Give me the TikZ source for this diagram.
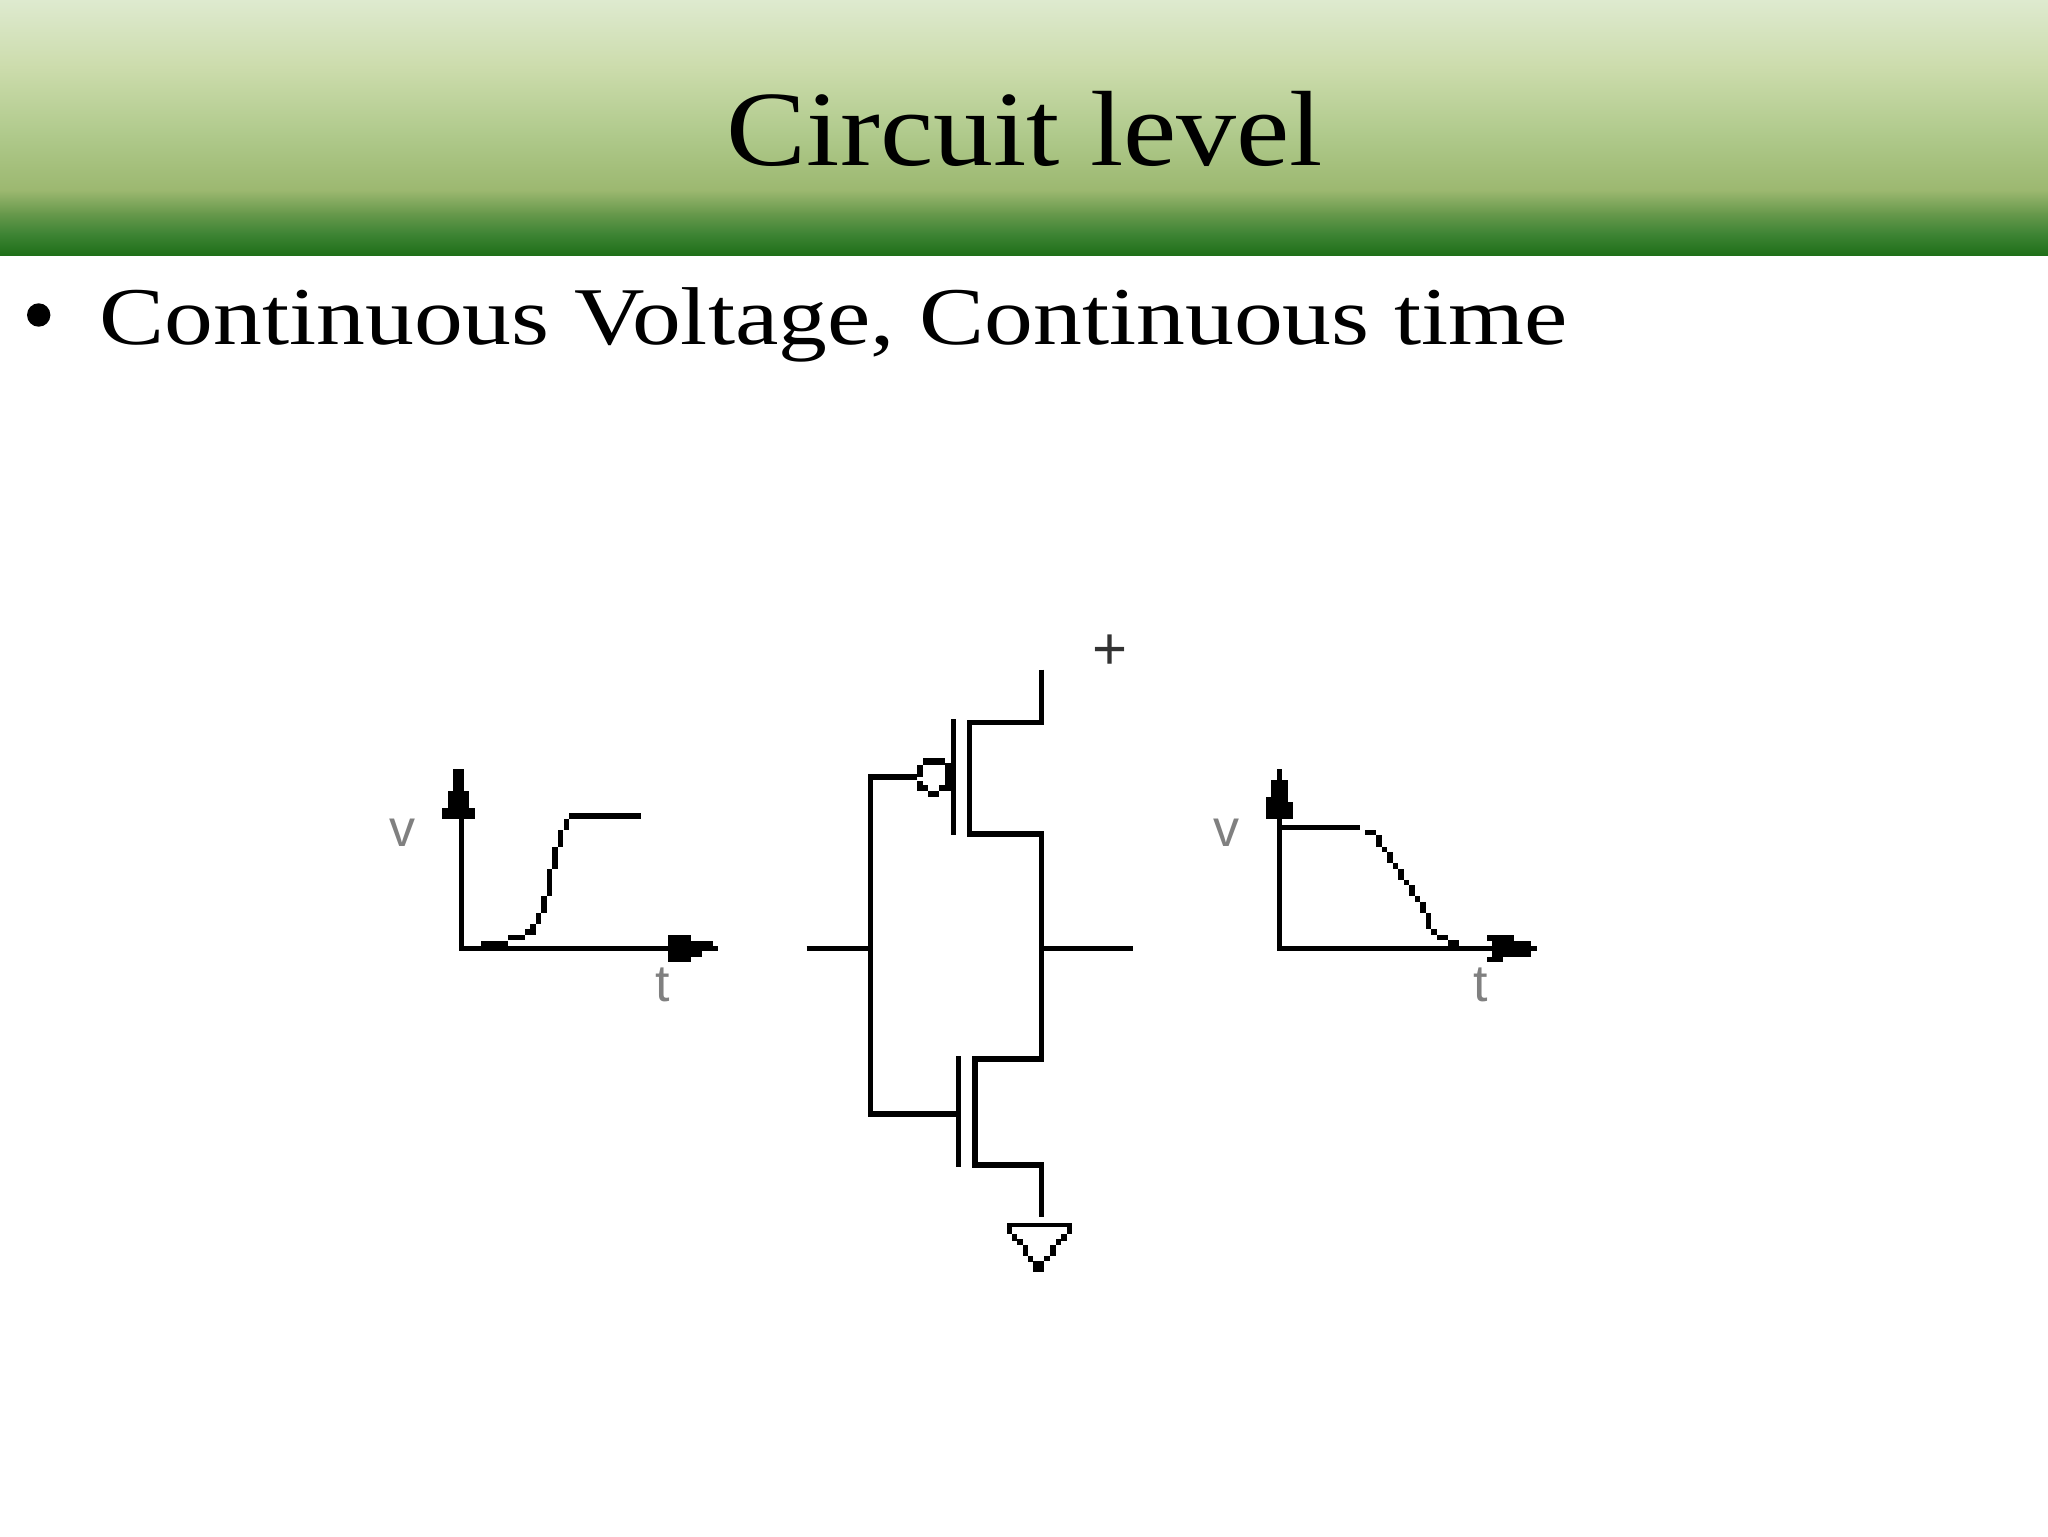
\documentclass[tikz,border=0pt]{standalone}
\usepackage{fontspec}
\setmainfont{Liberation Serif}
\setsansfont{Liberation Sans}
\definecolor{gA}{HTML}{DEEACF}
\definecolor{gB}{HTML}{CCDCAC}
\definecolor{gC}{HTML}{B0CA8C}
\definecolor{gD}{HTML}{9CB870}
\definecolor{gE}{HTML}{68994C}
\definecolor{gF}{HTML}{3F8535}
\definecolor{gG}{HTML}{1E6E18}
\tikzset{
  zoomed/.style={x=0.16667pt,y=-0.16667pt},
  tallzoomed/.style={x=0.16667pt,y=-0.21044pt},
  wire/.style={line width=2.7pt,black,line join=miter},
  pix/.style={fill=black},
  titletext/.style={anchor=base,inner sep=0pt,text=black},
  axislabel/.style={inner sep=0pt,text=black!50,font=\sffamily\fontsize{26}{26}\selectfont},
  band/.style={draw=none}
}
\newcommand{\pixrects}[1]{\foreach \a/\b/\c/\d in {#1} {\fill[pix] (\a,\b) rectangle (\c,\d);}}
\begin{document}
\begin{tikzpicture}[x=0.5pt,y=-0.5pt]
\useasboundingbox (0,0) rectangle (2048,1536);
\fill[white] (0,0) rectangle (2048,1536);
% header
\shade[band,top color=gA,bottom color=gB] (0,0) rectangle (2048,67.5);
\shade[band,top color=gB,bottom color=gC] (0,67) rectangle (2048,133.5);
\shade[band,top color=gC,bottom color=gD] (0,133) rectangle (2048,190.5);
\shade[band,top color=gD,bottom color=gE] (0,190) rectangle (2048,213.5);
\shade[band,top color=gE,bottom color=gF] (0,213) rectangle (2048,233.5);
\shade[band,top color=gF,bottom color=gG] (0,233) rectangle (2048,255.5);
% texts
\node[titletext] (title) at (1025,165) {\resizebox{298pt}{\height}{\fontsize{53.5}{58}\selectfont Circuit level}};
\fill (38.7,315) circle (11.7);
\node[titletext,anchor=base west] (bullet) at (99,344) {\resizebox{734pt}{\height}{\fontsize{41}{45}\selectfont Continuous Voltage, Continuous time}};
% left graph
\begin{scope}[shift={(380,740)},zoomed]
\pixrects{236/218/252/634, 236/618/1000/634,
 220/88/252/155, 203/153/268/205, 186/203/285/236,
 865/586/932/666, 932/602/965/650, 965/602/998/634, 998/618/1015/634,
 303/602/383/620, 385/585/435/601, 435/568/467/585, 451/552/467/568,
 468/519/484/552, 484/469/500/519, 501/386/517/469, 517/320/533/386,
 534/270/550/320, 551/236/567/270, 567/220/782/236}
\end{scope}
\node[axislabel] (vleft) at (402.7,833) {v};
\node[axislabel] (tleft) at (662.7,985) {t};
% right graph
\begin{scope}[shift={(1200,740)},zoomed]
\pixrects{231/88/247/634, 231/618/1000/634,
 231/88/247/120, 214/120/264/170, 198/170/264/186, 198/186/280/236,
 860/586/943/602, 876/602/993/650, 993/618/1010/634, 860/650/910/666,
 247/254/480/270, 496/270/528/286, 528/286/545/320, 545/320/561/336,
 561/336/578/369, 578/369/594/386, 594/386/611/419, 611/419/627/435,
 627/435/644/468, 644/468/660/485, 660/485/677/518, 677/518/693/568,
 693/568/710/585, 710/585/743/601, 743/601/776/618}
\end{scope}
\node[axislabel] (vright) at (1226.7,833) {v};
\node[axislabel] (tright) at (1481,985) {t};
% circuit
\begin{scope}[shift={(790,620)},tallzoomed]
\draw[wire] (755,118) -- (755,243) -- (539,243) -- (539,508) -- (755,508) -- (755,1043)
  -- (555,1043) -- (555,1295) -- (755,1295) -- (755,1418);
\draw[wire] (490,236) -- (490,512);
\draw[wire] (506,1036) -- (506,1300);
\draw[wire] (50,781) -- (241,781);
\draw[wire] (755,781) -- (1028,781);
\draw[wire] (382,373) -- (241,373) -- (241,1174) -- (498,1174);
\pixrects{398/328/465/344, 382/344/398/372, 382/383/398/406, 398/392/415/406,
 415/406/448/420, 448/392/482/406, 465/340/482/406,
 650/1432/845/1442, 650/1442/665/1458, 830/1442/845/1458,
 665/1458/681/1475, 681/1470/698/1485, 698/1485/714/1510, 714/1510/730/1525,
 730/1523/763/1548, 763/1510/780/1523, 780/1485/797/1510, 797/1470/813/1485,
 813/1458/830/1475}
\end{scope}
\node[inner sep=0pt,text=black!80,font=\sffamily\fontsize{30}{30}\selectfont] (plus) at (1110,652) {+};
\end{tikzpicture}
\end{document}
